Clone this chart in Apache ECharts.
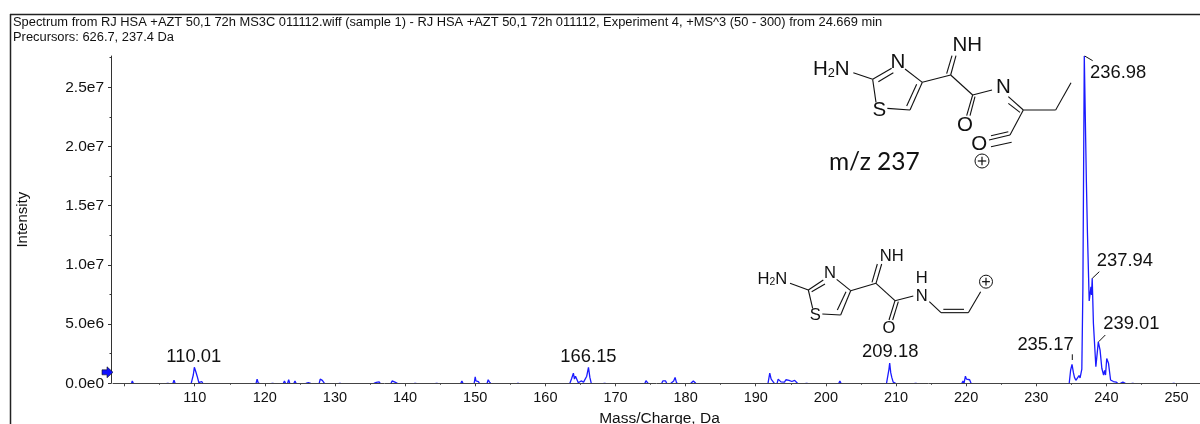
<!DOCTYPE html>
<html>
<head>
<meta charset="utf-8">
<style>html,body{margin:0;padding:0;background:#fff}#c{width:1200px;height:424px}</style>
<script src="https://cdn.jsdelivr.net/npm/echarts@6/dist/echarts.min.js"></script>
</head>
<body>
<div id="c"></div>
<script>
// ---- data -----------------------------------------------------------------
const mz = [
98.5,
101,101.1,101.25, 106,106.15,106.3, 106.9,107.05,107.2,
109.5,109.65,109.8,109.95,110.15,110.35,110.6,110.85,111,111.15,
118.75,118.9,119.05,119.2, 120.95,121.1,121.25, 122.65,122.8,122.95,
123.25,123.4,123.55, 124.15,124.3,124.45, 125.85,126,126.2,126.4,126.55,
127.75,127.9,128.05,128.2,128.35,128.5, 130.55,130.7,130.85,
135.55,135.7,135.9,136.1,136.3,136.45, 138,138.15,138.35,138.55,138.75,138.9,
141.3,141.45,141.6, 144.35,144.5,144.65, 147.95,148.1,148.25,
149.85,150,150.1,150.25,150.45,150.6, 151.7,151.85,152.05,152.2, 155.95,156.1,156.25,
163.5,163.75,164,164.15,164.3,164.5,164.7,164.9,165.1,165.3,165.45,165.65,165.9,166.15,166.35,166.55,
168.3,168.45,168.6, 174.2,174.35,174.5,174.65, 176.6,176.75,176.95,177.15,177.3,
177.9,178.05,178.3,178.5,178.7,178.85, 180.75,180.9,181.1,181.3,181.45,
191.75,192,192.2,192.4,192.65,
193.05,193.2,193.4,193.6,193.85,194.1,194.3,194.5,194.75,194.95,195.15,195.35,195.55,195.8,195.95,
197.1,197.25,197.4, 201.85,202,202.15,
208.65,208.8,209,209.1,209.25,209.4,209.6,209.8,209.95, 212.65,212.8,212.95,
219.4,219.55,219.7,219.9,220.05,220.25,220.5,220.7,
234.7,234.9,235.1,235.3,235.45,235.65,235.9,236.1,236.25,236.5,236.65,236.85,236.98,237.15,237.3,
237.55,237.8,237.88,237.98,238.15,238.5,238.85,239.1,239.35,239.6,239.75,239.88,240.05,240.3,240.6,
240.8,241,241.2,241.4,241.6, 242,242.15,242.35,242.55,242.7, 243.6,243.75,243.9,
249.45,249.6,249.75, 253.3
];
// intensity in units of 1e6 counts, same order as mz
const intensityM = [
0,
0,.2,0, 0,.15,0, 0,.25,0,
0,.1,.7,1.35,1,.6,.05,0,.15,0,
0,.35,.05,0, 0,.15,0, 0,.2,0,
0,.3,0, 0,.2,0, 0,.1,.05,.12,0,
0,.35,.2,.25,.15,0, 0,.15,0,
0,.12,.08,.15,.12,0, 0,.2,.1,.1,.1,0,
0,.1,0, 0,.12,0, 0,.2,0,
0,.55,.2,.35,.15,0, 0,.3,.1,0, 0,.15,0,
0,.4,.85,.35,.6,.5,.05,.1,.2,.1,.1,0,.6,1.35,.5,0,
0,.1,0, 0,.22,.08,0, 0,.2,.15,.2,0,
0,.1,.2,.5,.05,0, 0,.15,.2,.12,0,
0,.85,.35,.2,0,
0,.35,.2,.12,.15,.1,.3,.15,.25,.1,.15,.1,.25,.25,0,
0,.1,0, 0,.2,0,
0,.15,1.2,1.7,.9,.5,.1,.2,0, 0,.15,0,
0,.2,0,.6,.35,.45,.3,0,
0,1.1,1.6,.9,.5,.25,.2,.65,.45,1.2,8,27.64,27.5,17,12.7,
6.95,8.15,7.45,8.87,5.07,1.4,3.5,2.8,1.27,.7,1.1,.7,2.1,1.7,.28,
.3,.15,.25,.1,0, 0,.12,.1,.15,0, 0,.1,0,
0,.15,0, 0
];
const peakMz = [110.01, 166.15, 209.18, 235.17, 236.98, 237.94, 239.01];
const peakIntensityM = [1.35, 1.35, 1.7, 1.6, 27.5, 8.87, 3.5];
const xLabelTicks = [110,120,130,140,150,160,170,180,190,200,210,220,230,240,250];
const xMajorTicks = [100,110,120,130,140,150,160,170,180,190,200,210,220,230,240,250];
const xMinorTicks = [105,115,125,135,145,155,165,175,185,195,205,215,225,235,245];
const yMajorTicks = [0,5e6,1e7,1.5e7,2e7,2.5e7];
const yMinorTicks = [2.5e6,7.5e6,1.25e7,1.75e7,2.25e7,2.75e7];
const headerLines = [
 'Spectrum from RJ HSA +AZT 50,1 72h MS3C 011112.wiff (sample 1) - RJ HSA +AZT 50,1 72h 011112, Experiment 4, +MS^3 (50 - 300) from 24.669 min',
 'Precursors: 626.7, 237.4 Da'
];

// ---- layout ---------------------------------------------------------------
const FONT = '"Liberation Sans", Arial, sans-serif';
const X_MIN = 98.35, X_MAX = 253.35, Y_MAX = 27.64e6;
const labelOffsets = [[-1,-10],[0,-10],[0,-11],[-27,-19],[33,15],[33,-17],[32,-18]];

// The baseline belongs to the axis: break the trace wherever it rests at zero.
const spectrumData = [];
mz.forEach((m,i)=>{
  spectrumData.push([m, intensityM[i]*1e6]);
  if (i < mz.length-1 && intensityM[i]===0 && intensityM[i+1]===0) spectrumData.push([m, null]);
});

// ---- chemical structure sketches (drawn artwork, not data) -------------------
function structure(ox, oy, bonds, texts, plus, fs) {
  const k = 1/3, out = [];
  bonds.forEach(b => out.push({type:'line', silent:true, z:5,
    shape:{x1:ox+b[0]*k, y1:oy+b[1]*k, x2:ox+b[2]*k, y2:oy+b[3]*k},
    style:{stroke:'#111', lineWidth:1.1}}));
  texts.forEach(t => out.push({type:'text', silent:true, z:6, x:ox+t[1]*k, y:oy+t[2]*k,
    style:{text:t[0], fill:'#111', font:fs+'px '+FONT, align:'center', verticalAlign:'middle',
      rich:{s:{fontSize:fs*0.62, fontFamily:FONT, fill:'#111', verticalAlign:'bottom', padding:[fs*0.35,0,0,0]}}}}));
  const px = ox+plus[0]*k, py = oy+plus[1]*k, r = plus[2];
  out.push({type:'circle', silent:true, z:5, shape:{cx:px, cy:py, r:r}, style:{fill:'#fff', stroke:'#111', lineWidth:1}});
  out.push({type:'line', silent:true, z:6, shape:{x1:px-r*0.6,y1:py,x2:px+r*0.6,y2:py}, style:{stroke:'#111',lineWidth:1.2}});
  out.push({type:'line', silent:true, z:6, shape:{x1:px,y1:py-r*0.6,x2:px,y2:py+r*0.6}, style:{stroke:'#111',lineWidth:1.2}});
  return out;
}
const struct1 = structure(790, 25, [
 [190,143,248,163],[248,163,305,130],[265,170,310,143],[345,132,397,172],
 [397,172,360,255],[380,178,350,243],[360,255,292,250],[258,232,248,163],
 [397,172,482,150],[482,150,498,92],[470,146,486,92],[482,150,548,210],
 [548,210,530,272],[555,215,540,272],[548,210,606,195],[655,215,700,255],[655,235,690,262],
 [700,255,797,255],[797,255,843,173],[700,255,660,330],[660,330,597,345],[665,352,603,365],[655,320,603,332]
],[
 ['H{s|2}N',124,132],['N',324,113],['S',268,257],['NH',532,60],['O',525,302],['N',640,188],['O',568,358]
],[576,408,7],20.5);
const struct2 = structure(740, 240, [
 [150,130,205,150],[205,150,250,120],[215,155,255,132],[290,118,332,152],
 [332,152,302,225],[318,155,292,210],[302,225,247,222],[218,205,205,150],
 [332,152,408,130],[408,130,425,72],[396,127,412,72],[408,130,465,182],
 [465,182,447,240],[475,185,458,240],[465,182,520,168],[568,185,603,218],
 [603,218,685,218],[610,208,672,208],[685,218,722,155]
],[
 ['H{s|2}N',97,117],['N',270,100],['S',226,225],['NH',455,50],['H',545,115],['N',545,170],['O',447,265]
],[738,125,6.5],16.6);

const leaders = [
 [1084.7,56,1092.7,60.7],[1092.3,278.3,1099.3,271.7],[1098.7,341.7,1105.3,335],[1072.3,354.3,1072.3,360]
].map(l => ({type:'line', silent:true, z:5, shape:{x1:l[0],y1:l[1],x2:l[2],y2:l[3]}, style:{stroke:'#111',lineWidth:1}}));

const chart = echarts.init(document.getElementById('c'), null, {renderer:'canvas'});
chart.setOption({
  animation:false,
  backgroundColor:'#fff',
  title:{ text:headerLines.join('\n'), left:13, top:15, padding:0,
    textStyle:{fontFamily:FONT, fontSize:12.88, fontWeight:'normal', color:'#111', lineHeight:15} },
  grid:{ left:113, right:0, top:56, bottom:40.7, containLabel:false, outerBoundsMode:'none' },
  xAxis:[
    { type:'value', min:X_MIN, max:X_MAX, z:3, splitLine:{show:false},
      name:'Mass/Charge, Da', nameLocation:'middle', nameGap:27,
      nameTextStyle:{fontFamily:FONT, fontSize:15.5, color:'#111', padding:[0,0,0,6]},
      axisLine:{show:true, onZero:false, lineStyle:{color:'#444', width:1}},
      axisTick:{show:true, length:3, customValues:xMajorTicks, lineStyle:{color:'#444'}},
      axisLabel:{show:true, customValues:xLabelTicks, margin:7, fontFamily:FONT, fontSize:14.5, color:'#111', hideOverlap:false} },
    { type:'value', min:X_MIN, max:X_MAX, position:'bottom', splitLine:{show:false},
      axisLine:{show:false}, axisLabel:{show:false},
      axisTick:{show:true, length:1.5, customValues:xMinorTicks, lineStyle:{color:'#444'}} }
  ],
  yAxis:[
    { type:'value', min:0, max:Y_MAX, offset:2, splitLine:{show:false},
      name:'Intensity', nameLocation:'middle', nameGap:81,
      nameTextStyle:{fontFamily:FONT, fontSize:15, color:'#111', padding:[0,0,0,0]},
      axisLine:{show:true, onZero:false, lineStyle:{color:'#333', width:1}},
      axisTick:{show:true, length:3, customValues:yMajorTicks, lineStyle:{color:'#333'}},
      axisLabel:{show:true, customValues:yMajorTicks, margin:7, fontFamily:FONT, fontSize:15.5, color:'#111',
        formatter:v => v.toExponential(1).replace('e+','e')} },
    { type:'value', min:0, max:Y_MAX, offset:2, position:'left', splitLine:{show:false},
      axisLine:{show:false}, axisLabel:{show:false},
      axisTick:{show:true, length:1.5, customValues:yMinorTicks, lineStyle:{color:'#333'}} }
  ],
  series:[
    { type:'line', name:'spectrum', z:2, silent:true, showSymbol:false, symbol:'none', smooth:false, clip:false,
      connectNulls:false, lineStyle:{color:'#1a1aff', width:1.3},
      data:spectrumData },
    { type:'scatter', name:'peaks', z:4, silent:true, symbolSize:0, itemStyle:{opacity:1},
      data:peakMz.map((m,i)=>({
        value:[m, peakIntensityM[i]*1e6],
        label:{show:true, position:'inside', offset:labelOffsets[i], formatter:m.toFixed(2), opacity:1,
          fontFamily:FONT, fontSize:18.4, color:'#111'}
      })) }
  ],
  graphic:[
    {type:'line', silent:true, z:10, shape:{x1:10,y1:14.5,x2:1200,y2:14.5}, style:{stroke:'#222',lineWidth:1.5}},
    {type:'line', silent:true, z:10, shape:{x1:10.5,y1:14,x2:10.5,y2:424}, style:{stroke:'#222',lineWidth:1.5}},
    {type:'polygon', silent:true, z:10, shape:{points:[[102,369.8],[107,369.8],[107,366.8],[113,372.3],[107,377.8],[107,374.8],[102,374.8]]},
      style:{fill:'#1010ff', stroke:'#111', lineWidth:0.6}},
    {type:'text', silent:true, z:6, x:790+253/3*1, y:25+410/3,
      style:{text:'m/z 237', fill:'#111', font:'24.5px Lato, "Open Sans", sans-serif', align:'center', verticalAlign:'middle'}},
    ...leaders, ...struct1, ...struct2
  ]
});
</script>
</body>
</html>
